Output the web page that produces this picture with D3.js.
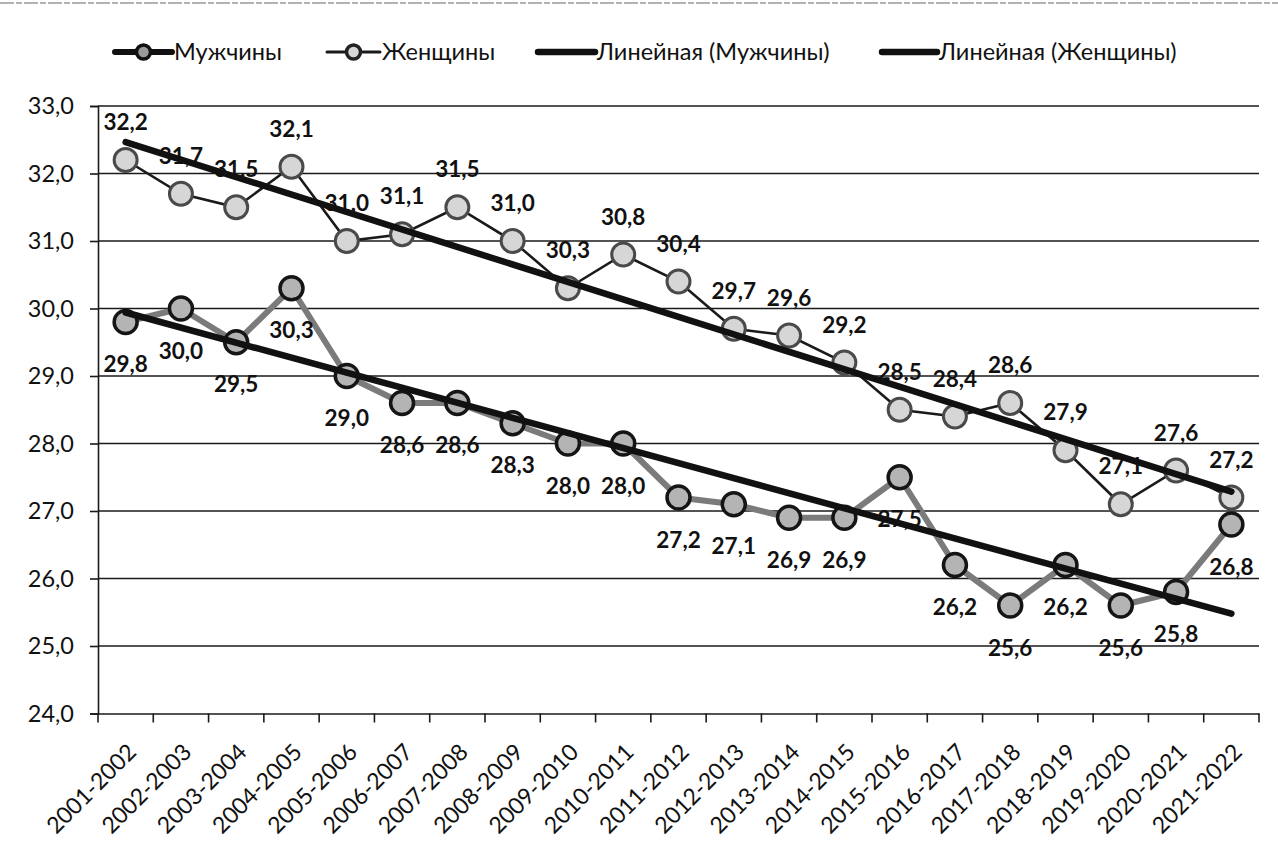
<!DOCTYPE html>
<html>
<head>
<meta charset="utf-8">
<script src="https://cdn.jsdelivr.net/npm/d3@7/dist/d3.min.js"></script>
<style>
  html, body { margin: 0; padding: 0; background: #fff; }
  svg text { font-family: Lato, "Noto Sans", sans-serif; fill: #111; }
</style>
</head>
<body>
<div id="chart"></div>
<script>
// Categories (academic years)
const years = [
  "2001-2002", "2002-2003", "2003-2004", "2004-2005", "2005-2006", "2006-2007",
  "2007-2008", "2008-2009", "2009-2010", "2010-2011", "2011-2012", "2012-2013",
  "2013-2014", "2014-2015", "2015-2016", "2016-2017", "2017-2018", "2018-2019",
  "2019-2020", "2020-2021", "2021-2022"
];

// Мужчины
const men = [29.8, 30.0, 29.5, 30.3, 29.0, 28.6, 28.6, 28.3, 28.0, 28.0, 27.2,
             27.1, 26.9, 26.9, 27.5, 26.2, 25.6, 26.2, 25.6, 25.8, 26.8];

// Женщины
const women = [32.2, 31.7, 31.5, 32.1, 31.0, 31.1, 31.5, 31.0, 30.3, 30.8, 30.4,
               29.7, 29.6, 29.2, 28.5, 28.4, 28.6, 27.9, 27.1, 27.6, 27.2];

const yTicks = [24, 25, 26, 27, 28, 29, 30, 31, 32, 33];

const legendLabels = ["Мужчины", "Женщины", "Линейная (Мужчины)", "Линейная (Женщины)"];

const W = 1278, H = 849;
const svg = d3.select("#chart").append("svg")
  .attr("width", W).attr("height", H);

// scan border at the top
svg.append("line")
  .attr("x1", 0).attr("x2", W).attr("y1", 3).attr("y2", 3)
  .attr("stroke", "#9a9a9a").attr("stroke-width", 1.5)
  .attr("stroke-dasharray", "14 2 6 2");

const plot = { left: 98, right: 1259, top: 106, bottom: 713.5 };

const x = d3.scaleBand().domain(years).range([plot.left, plot.right]).padding(0);
const y = d3.scaleLinear().domain([24, 33]).range([plot.bottom, plot.top]);
const cx = d => x(d) + x.bandwidth() / 2;

// gridlines
svg.append("g")
  .selectAll("line")
  .data(yTicks.filter(v => v > 24))
  .join("line")
  .attr("x1", plot.left).attr("x2", plot.right)
  .attr("y1", d => y(d)).attr("y2", d => y(d))
  .attr("stroke", "#1a1a1a").attr("stroke-width", 1.6);

// y axis
const yAxis = svg.append("g")
  .attr("transform", `translate(${plot.left},0)`)
  .call(d3.axisLeft(y).tickValues(yTicks).tickSize(8).tickPadding(16)
    .tickFormat(d => d3.format(".1f")(d).replace(".", ",")));
yAxis.select(".domain").attr("stroke", "#1a1a1a").attr("stroke-width", 1.6);
yAxis.selectAll(".tick line").attr("stroke", "#1a1a1a").attr("stroke-width", 1.6);
yAxis.selectAll(".tick text").attr("font-size", 23.5).attr("fill", "#111");

// x axis: labels at band centres, ticks at band boundaries
const xAxis = svg.append("g")
  .attr("transform", `translate(0,${plot.bottom})`)
  .call(d3.axisBottom(x).tickSize(0).tickPadding(0));
xAxis.select(".domain").attr("stroke", "#1a1a1a").attr("stroke-width", 1.6);
xAxis.selectAll(".tick text")
  .attr("font-size", 23)
  .attr("fill", "#111")
  .attr("text-anchor", "end")
  .attr("dy", 0)
  .attr("transform", "translate(12,40) rotate(-45)");

svg.append("g")
  .selectAll("line")
  .data(years.map(d => x(d)).concat([plot.right]))
  .join("line")
  .attr("x1", d => d).attr("x2", d => d)
  .attr("y1", plot.bottom).attr("y2", plot.bottom + 9)
  .attr("stroke", "#1a1a1a").attr("stroke-width", 1.6);

// linear regression over category index
function trend(values) {
  const n = values.length;
  const xs = values.map((v, i) => i + 1);
  const mx = d3.mean(xs), my = d3.mean(values);
  const b = d3.sum(xs, (xi, i) => (xi - mx) * (values[i] - my)) / d3.sum(xs, xi => (xi - mx) ** 2);
  const a = my - b * mx;
  return [a + b * xs[0], a + b * xs[n - 1]];
}

const line = d3.line().x((d, i) => cx(years[i])).y(d => y(d));
const fmt = v => d3.format(".1f")(v).replace(".", ",");

// Мужчины series
svg.append("path").datum(men)
  .attr("d", line).attr("fill", "none")
  .attr("stroke", "#7b7b7b").attr("stroke-width", 6).attr("stroke-linejoin", "round");
svg.append("g").selectAll("circle").data(men).join("circle")
  .attr("cx", (d, i) => cx(years[i])).attr("cy", d => y(d)).attr("r", 11.5)
  .attr("fill", "#b4b4b4").attr("stroke", "#151515").attr("stroke-width", 3.5);

// Женщины series
svg.append("path").datum(women)
  .attr("d", line).attr("fill", "none")
  .attr("stroke", "#1a1a1a").attr("stroke-width", 2.6);
svg.append("g").selectAll("circle").data(women).join("circle")
  .attr("cx", (d, i) => cx(years[i])).attr("cy", d => y(d)).attr("r", 11.5)
  .attr("fill", "#d6d6d6").attr("stroke", "#4a4a4a").attr("stroke-width", 3);

// data labels
svg.append("g").selectAll("text").data(men).join("text")
  .attr("x", (d, i) => cx(years[i])).attr("y", d => y(d) + 50)
  .attr("text-anchor", "middle").attr("font-size", 22.5).attr("font-weight", 700)
  .text(fmt);
svg.append("g").selectAll("text").data(women).join("text")
  .attr("x", (d, i) => cx(years[i])).attr("y", d => y(d) - 30)
  .attr("text-anchor", "middle").attr("font-size", 22.5).attr("font-weight", 700)
  .text(fmt);

// trend lines
[men, women].forEach(vals => {
  const [v0, v1] = trend(vals);
  svg.append("line")
    .attr("x1", cx(years[0])).attr("y1", y(v0))
    .attr("x2", cx(years[years.length - 1])).attr("y2", y(v1))
    .attr("stroke", "#111").attr("stroke-width", 6.5).attr("stroke-linecap", "round");
});

// legend
const legendItems = [
  { label: legendLabels[0], x0: 115, x1: 172, width: 6, color: "#111", marker: { fill: "#9a9a9a", stroke: "#111" } },
  { label: legendLabels[1], x0: 327, x1: 380, width: 3, color: "#1a1a1a", marker: { fill: "#d6d6d6", stroke: "#222" } },
  { label: legendLabels[2], x0: 538, x1: 595, width: 6.5, color: "#111", marker: null },
  { label: legendLabels[3], x0: 882, x1: 937, width: 6.5, color: "#111", marker: null }
];
const ly = 52;
const lg = svg.append("g").selectAll("g").data(legendItems).join("g");
lg.append("line")
  .attr("x1", d => d.x0).attr("x2", d => d.x1).attr("y1", ly).attr("y2", ly)
  .attr("stroke", d => d.color).attr("stroke-width", d => d.width).attr("stroke-linecap", "round");
lg.filter(d => d.marker).append("circle")
  .attr("cx", d => (d.x0 + d.x1) / 2).attr("cy", ly).attr("r", 7)
  .attr("fill", d => d.marker.fill).attr("stroke", d => d.marker.stroke).attr("stroke-width", 3.5);
lg.append("text")
  .attr("x", d => d.x1 + 2).attr("y", ly + 8)
  .attr("font-size", 23.5)
  .text(d => d.label);
</script>
</body>
</html>
